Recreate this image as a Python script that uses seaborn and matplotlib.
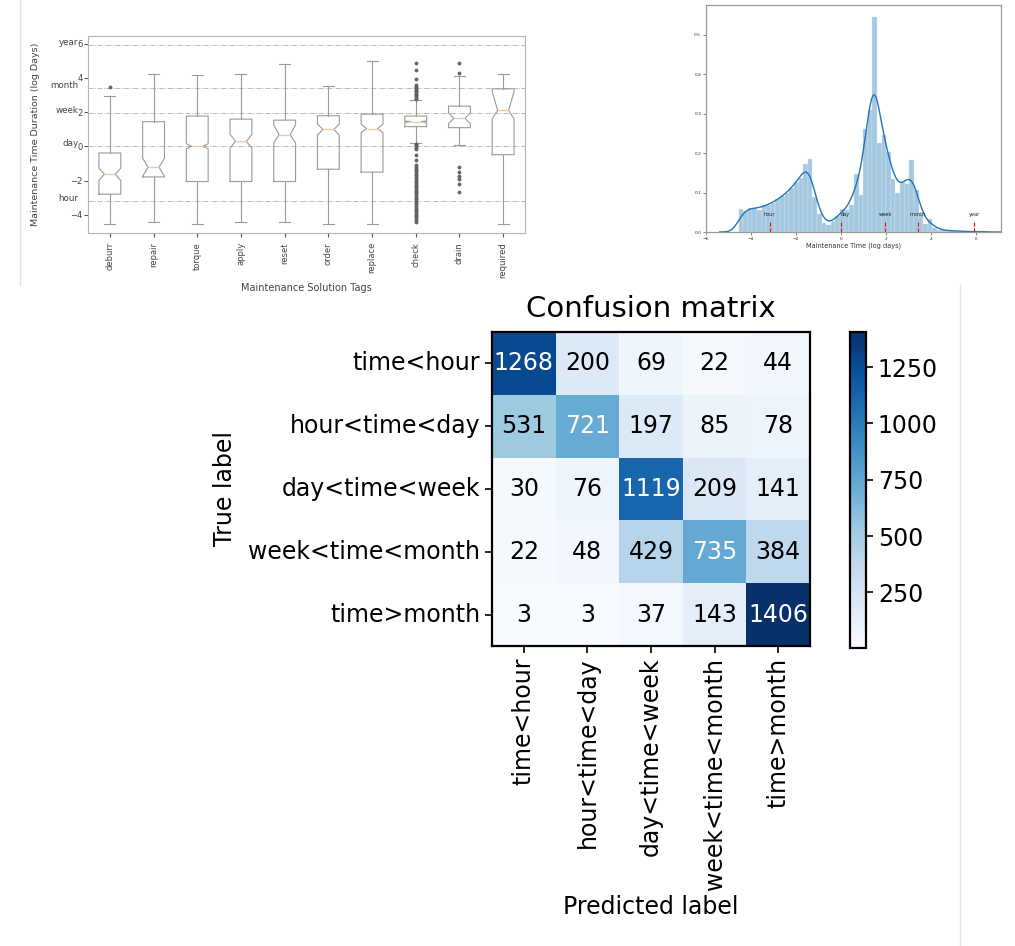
import matplotlib
matplotlib.use("Agg")
import matplotlib.pyplot as plt
import numpy as np
import pandas as pd
import seaborn as sns
from matplotlib.lines import Line2D

# ---- data: boxplot of maintenance time by solution tag (log days) ----
tags = ["deburr", "repair", "torque", "apply", "reset", "order", "replace", "check", "drain", "required"]
box_q1 = [-2.80, -1.79, -2.06, -2.06, -2.06, -1.34, -1.51, 1.15, 1.09, -0.49]
box_med = [-1.63, -1.22, 0.00, 0.29, 0.68, 0.99, 1.03, 1.44, 1.63, 2.10]
box_q3 = [-0.39, 1.44, 1.77, 1.59, 1.53, 1.79, 1.88, 1.77, 2.35, 3.36]
box_lo = [-4.52, -4.41, -4.52, -4.45, -4.45, -4.52, -4.52, 0.21, 0.06, -4.52]
box_hi = [2.95, 4.25, 4.19, 4.25, 4.83, 3.51, 4.99, 2.68, 4.10, 4.21]
box_cilo = [-2.00, -1.75, -0.15, -0.10, 0.20, 0.65, 0.80, 1.40, 1.33, 1.60]
box_cihi = [-1.28, -0.70, 0.15, 0.70, 1.25, 1.30, 1.30, 1.48, 1.95, 3.20]
box_fliers = [
    [3.44],
    [], [], [], [], [], [],
    [4.88, 4.45, 3.92, 3.56, 3.48, 3.40, 3.32, 3.24, 3.16, 3.08, 3.00, 2.92, 2.84, 2.76,
     0.16, 0.08, 0.00, -0.08, -0.16, -0.50, -0.80,
     -1.10, -1.20, -1.30, -1.40, -1.50, -1.60, -1.70, -1.80, -1.90, -2.00, -2.10, -2.20,
     -2.30, -2.40, -2.50, -2.60, -2.70, -2.80, -2.90, -3.00, -3.10, -3.20, -3.30, -3.40,
     -3.50, -3.60, -3.70, -3.80, -3.90, -4.00, -4.10, -4.20, -4.30, -4.40],
    [4.89, 4.29, -1.22, -1.48, -1.71, -1.94, -2.19, -2.66],
    [],
]

# reference durations in log days
mark_names = ["hour", "day", "week", "month", "year"]
mark_vals = [-3.18, 0.0, 1.95, 3.40, 5.90]

# ---- data: histogram of maintenance time (density per bin) ----
hist_centers = [-4.45, -4.25, -4.04, -3.84, -3.63, -3.43, -3.22, -3.02, -2.81, -2.61,
                -2.40, -2.20, -1.99, -1.79, -1.58, -1.38, -1.17, -0.97, -0.76, -0.56,
                -0.35, -0.15, 0.06, 0.26, 0.47, 0.67, 0.88, 1.08, 1.29, 1.49,
                1.70, 1.90, 2.11, 2.31, 2.52, 2.72, 2.93, 3.13, 3.34, 3.54,
                3.75, 3.95, 4.16, 4.36, 4.57, 4.77, 4.98, 5.18, 5.39, 5.59,
                5.80, 6.00, 6.21]
hist_heights = [0.058, 0.054, 0.062, 0.062, 0.057, 0.068, 0.070, 0.075, 0.083, 0.092,
                0.100, 0.112, 0.128, 0.138, 0.174, 0.187, 0.089, 0.047, 0.022, 0.018,
                0.028, 0.040, 0.058, 0.055, 0.068, 0.148, 0.094, 0.263, 0.311, 0.548,
                0.227, 0.246, 0.204, 0.135, 0.100, 0.128, 0.122, 0.184, 0.106, 0.047,
                0.020, 0.032, 0.009, 0.006, 0.004, 0.004, 0.003, 0.002, 0.002, 0.001,
                0.001, 0.001, 0.002]

# ---- data: confusion matrix ----
classes = ["time<hour", "hour<time<day", "day<time<week", "week<time<month", "time>month"]
cm_values = [
    [1268, 200, 69, 22, 44],
    [531, 721, 197, 85, 78],
    [30, 76, 1119, 209, 141],
    [22, 48, 429, 735, 384],
    [3, 3, 37, 143, 1406],
]

W, H = 1015, 946
fig = plt.figure(figsize=(W / 100, H / 100), dpi=100)


def px_axes(l, t, r, b):
    return fig.add_axes([l / W, 1 - b / H, (r - l) / W, (b - t) / H])


# faint page borders from the original composite
fig.add_artist(Line2D([20 / W, 20 / W], [1, 1 - 285 / H], color="#e2e2e2", lw=1))
fig.add_artist(Line2D([960 / W, 960 / W], [1 - 285 / H, 0], color="#e2e2e2", lw=1))

# ---------------- boxplot ----------------
ax1 = px_axes(88, 36, 525, 233)
stats = []
for i, t in enumerate(tags):
    stats.append(dict(label=t, q1=box_q1[i], med=box_med[i], q3=box_q3[i],
                      whislo=box_lo[i], whishi=box_hi[i],
                      cilo=box_cilo[i], cihi=box_cihi[i], fliers=box_fliers[i]))
gray = "#9a9a9a"
ax1.bxp(stats, shownotches=True,
        boxprops=dict(color=gray, lw=0.8),
        whiskerprops=dict(color=gray, lw=0.8),
        capprops=dict(color=gray, lw=0.8),
        medianprops=dict(color="#f7c59a", lw=0.9),
        flierprops=dict(marker="o", markersize=2.3, markerfacecolor="#6a6a6a",
                        markeredgecolor="#555555", markeredgewidth=0.4))
for v in mark_vals:
    ax1.axhline(v, color="#b0b0b0", ls="-.", lw=0.6, zorder=0)
for name, v in zip(mark_names, mark_vals):
    ax1.text(-0.022, v, name, transform=ax1.get_yaxis_transform(), ha="right",
             va="baseline", fontsize=6.3, color="#444444")
ax1.set_ylim(-5.07, 6.45)
ax1.set_xlim(0.5, 10.5)
ax1.set_yticks([-4, -2, 0, 2, 4, 6])
ax1.tick_params(axis="x", labelrotation=90, labelsize=6, colors="#555555", labelcolor="#444444", length=3)
ax1.tick_params(axis="y", labelsize=6, colors="#555555", labelcolor="#444444", length=3, pad=1)
ax1.set_xlabel("Maintenance Solution Tags", fontsize=7, color="#444444")
ax1.set_ylabel("Maintenance Time Duration (log Days)", fontsize=6.8, color="#444444", labelpad=22)
for s in ax1.spines.values():
    s.set_color("#b5b5b5")
    s.set_linewidth(0.8)

# ---------------- histogram + kde ----------------
ax2 = px_axes(706, 5, 1001, 232)
sns.histplot(x=hist_centers, weights=hist_heights, bins=53, binrange=(-4.555, 6.31),
             stat="density", kde=True, kde_kws={"bw_adjust": 0.22, "cut": 3},
             color="#1f77b4", alpha=0.4, edgecolor="#d9e7f2", linewidth=0.3,
             line_kws={"lw": 1.0}, ax=ax2)
ax2.vlines(mark_vals, 0, 0.03, colors="red", linestyles="--", lw=0.8)
for name, v in zip(mark_names, mark_vals):
    ax2.text(v, 0.04, name, ha="left" if name == "day" else "center",
             fontsize=3.6, color="#222222")
ax2.set_xlim(-6, 7.1)
ax2.set_ylim(0, 0.576)
ax2.set_xticks([-6, -4, -2, 0, 2, 4, 6])
ax2.set_yticks([0.0, 0.1, 0.2, 0.3, 0.4, 0.5])
ax2.yaxis.set_major_formatter(matplotlib.ticker.FormatStrFormatter("%.1f"))
ax2.tick_params(labelsize=3.2, length=2, width=0.5, colors="#555555", labelcolor="#333333", pad=1.5)
ax2.set_ylabel("")
ax2.set_xlabel("Maintenance Time (log days)", fontsize=4.7, color="#333333", labelpad=1.5)
for s in ax2.spines.values():
    s.set_color("#9a9a9a")
    s.set_linewidth(0.9)

# ---------------- confusion matrix ----------------
ax3 = px_axes(492, 332, 810, 646)
cax = px_axes(850, 332, 866, 648)
cm = pd.DataFrame(cm_values, index=classes, columns=classes)
sns.heatmap(cm, annot=True, fmt="d", cmap="Blues", ax=ax3, cbar_ax=cax,
            annot_kws={"size": 17})
# white text on dark cells, black elsewhere
thresh = np.max(cm_values) / 2.0
for txt in ax3.texts:
    txt.set_color("white" if int(txt.get_text()) > thresh else "black")
ax3.set_title("Confusion matrix", fontsize=21, pad=11)
ax3.set_xlabel("Predicted label", fontsize=17)
ax3.set_ylabel("True label", fontsize=17, labelpad=8)
ax3.tick_params(labelsize=17, length=5, width=1.2, color="black")
ax3.set_xticklabels(classes, rotation=90)
ax3.set_yticklabels(classes, rotation=0)
for s in ax3.spines.values():
    s.set_visible(True)
    s.set_color("black")
    s.set_linewidth(1.6)
cax.tick_params(labelsize=17, length=5, width=1.2)
cax.set_yticks([250, 500, 750, 1000, 1250])
for s in cax.spines.values():
    s.set_linewidth(1.6)
    s.set_color("black")

fig.savefig("out.png", dpi=100)
